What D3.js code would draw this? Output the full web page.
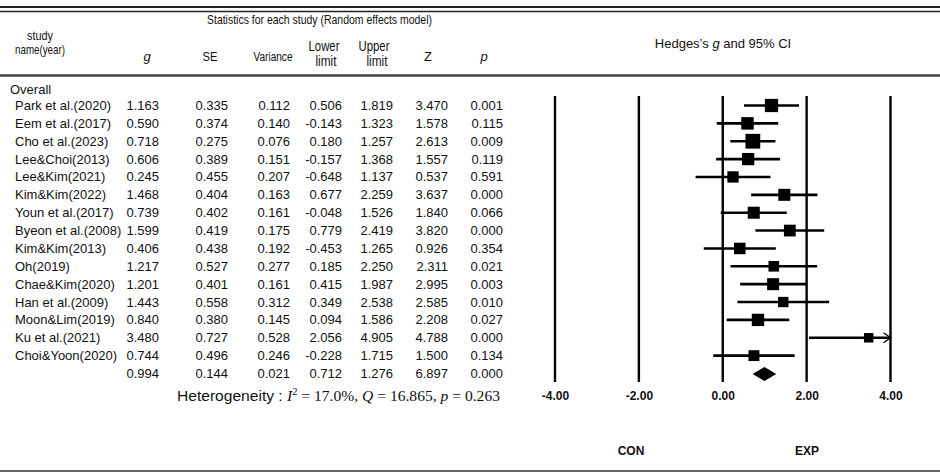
<!DOCTYPE html>
<html><head><meta charset="utf-8">
<script src="https://cdn.jsdelivr.net/npm/d3@7"></script>
<style>
html,body{margin:0;padding:0;background:#fff;}
svg{display:block;font-family:"Liberation Sans",Arial,sans-serif;}
</style></head>
<body>
<svg id="chart" width="940" height="473"></svg>
<script>
const studies = ["Park et al.(2020)","Eem et al.(2017)","Cho et al.(2023)","Lee&Choi(2013)","Lee&Kim(2021)","Kim&Kim(2022)","Youn et al.(2017)","Byeon et al.(2008)","Kim&Kim(2013)","Oh(2019)","Chae&Kim(2020)","Han et al.(2009)","Moon&Lim(2019)","Ku et al.(2021)","Choi&Yoon(2020)"];
const gVals   = [1.163,0.590,0.718,0.606,0.245,1.468,0.739,1.599,0.406,1.217,1.201,1.443,0.840,3.480,0.744];
const seVals  = [0.335,0.374,0.275,0.389,0.455,0.404,0.402,0.419,0.438,0.527,0.401,0.558,0.380,0.727,0.496];
const varVals = [0.112,0.140,0.076,0.151,0.207,0.163,0.161,0.175,0.192,0.277,0.161,0.312,0.145,0.528,0.246];
const lowVals = [0.506,-0.143,0.180,-0.157,-0.648,0.677,-0.048,0.779,-0.453,0.185,0.415,0.349,0.094,2.056,-0.228];
const upVals  = [1.819,1.323,1.257,1.368,1.137,2.259,1.526,2.419,1.265,2.250,1.987,2.538,1.586,4.905,1.715];
const zVals   = [3.470,1.578,2.613,1.557,0.537,3.637,1.840,3.820,0.926,2.311,2.995,2.585,2.208,4.788,1.500];
const pVals   = [0.001,0.115,0.009,0.119,0.591,0.000,0.066,0.000,0.354,0.021,0.003,0.010,0.027,0.000,0.134];
const overall = {g:0.994, se:0.144, v:0.021, lo:0.712, up:1.276, z:6.897, p:0.000};
const heterogeneity = {I2:"17.0%", Q:"16.865", p:"0.263"};
const tickVals = [-4,-2,0,2,4];
const sideLabels = ["CON","EXP"];

const svg = d3.select("#chart");
const loc = d3.formatLocale({decimal:".", thousands:",", grouping:[3], currency:["",""], minus:"-"});
const fmt = loc.format(".3f");
const fmtTick = loc.format(".2f");

// horizontal rules
svg.append("line").attr("x1",0).attr("x2",940).attr("y1",7).attr("y2",7).attr("stroke","#222").attr("stroke-width",2);
svg.append("line").attr("x1",0).attr("x2",940).attr("y1",11.5).attr("y2",11.5).attr("stroke","#222").attr("stroke-width",1.3);
svg.append("line").attr("x1",0).attr("x2",940).attr("y1",75.5).attr("y2",75.5).attr("stroke","#444").attr("stroke-width",2.5);
svg.append("line").attr("x1",0).attr("x2",940).attr("y1",471).attr("y2",471).attr("stroke","#333").attr("stroke-width",1.5);

// headers (condensed)
function hdr(txt, x, y, w, opts={}) {
  const t = svg.append("text").attr("x",x).attr("y",y).attr("text-anchor","middle")
    .attr("font-size", opts.size||13).attr("fill","#111").text(txt);
  if (w) t.attr("textLength",w).attr("lengthAdjust","spacingAndGlyphs");
  if (opts.italic) t.attr("font-style","italic");
  return t;
}
hdr("Statistics for each study (Random effects model)", 319.5, 24, 225);
hdr("study", 40, 40, 26);
hdr("name(year)", 40, 54, 50);
hdr("g", 147, 61, null, {italic:true, size:13});
hdr("SE", 210, 61, 15);
hdr("Variance", 273, 61, 39);
hdr("Lower", 324, 51, 31, {size:14});
hdr("limit", 326, 66, 21, {size:14});
hdr("Upper", 374, 51, 31, {size:14});
hdr("limit", 377, 66, 21, {size:14});
hdr("Z", 428, 61, null, {size:13});
hdr("p", 484, 61, null, {italic:true, size:13});
svg.append("text").attr("x",723).attr("y",48).attr("text-anchor","middle").attr("font-size",13).attr("fill","#111")
  .call(t=>{t.append("tspan").text("Hedges’s "); t.append("tspan").attr("font-style","italic").text("g"); t.append("tspan").text(" and 95% CI");});

svg.append("text").attr("x",10).attr("y",94).attr("font-size",13).attr("fill","#111").text("Overall");

// row scale
const y = d3.scaleLinear().domain([0,15]).range([105.5,373.5]);
const colRight = [159,228,290,342,393,448,503];

const rows = studies.map((s,i)=>({name:s, vals:[gVals[i],seVals[i],varVals[i],lowVals[i],upVals[i],zVals[i],pVals[i]], i}));
rows.push({name:"", vals:[overall.g,overall.se,overall.v,overall.lo,overall.up,overall.z,overall.p], i:15});

const rowG = svg.selectAll("g.row").data(rows).join("g").attr("class","row")
  .attr("transform",d=>`translate(0,${y(d.i)+4.5})`);
rowG.append("text").attr("x",15).attr("font-size",13).attr("fill","#111").text(d=>d.name);
rowG.selectAll("text.v").data(d=>d.vals).join("text").attr("class","v")
  .attr("x",(d,j)=>colRight[j]).attr("text-anchor","end").attr("font-size",13).attr("fill","#111")
  .text(d=>fmt(d));

// heterogeneity
const het = svg.append("text").attr("x",177).attr("y",401).attr("font-size",15).attr("fill","#111")
  .attr("textLength",323).attr("lengthAdjust","spacingAndGlyphs");
het.append("tspan").attr("font-family","Liberation Sans, Arial").text("Heterogeneity : ");
const serif = "Liberation Serif, DejaVu Serif, serif";
het.append("tspan").attr("font-family",serif).attr("font-style","italic").text("I");
het.append("tspan").attr("font-family",serif).attr("font-size",10).attr("dy",-6).text("2");
het.append("tspan").attr("font-family",serif).attr("dy",6).text(` = ${heterogeneity.I2},  `);
het.append("tspan").attr("font-family",serif).attr("font-style","italic").text("Q");
het.append("tspan").attr("font-family",serif).text(` = ${heterogeneity.Q},  `);
het.append("tspan").attr("font-family",serif).attr("font-style","italic").text("p");
het.append("tspan").attr("font-family",serif).text(` = ${heterogeneity.p}`);

// forest plot
const x = d3.scaleLinear().domain([-4,4]).range([555,890.5]);
svg.selectAll("line.grid").data(tickVals).join("line").attr("class","grid")
  .attr("x1",d=>x(d)).attr("x2",d=>x(d)).attr("y1",96).attr("y2",382)
  .attr("stroke","#000").attr("stroke-width",2.4);

const axis = d3.axisBottom(x).tickValues(tickVals).tickFormat(fmtTick).tickSize(0);
const ax = svg.append("g").attr("transform","translate(0,388)").call(axis);
ax.select(".domain").remove();
ax.selectAll("text").attr("font-size",12).attr("font-weight","bold").attr("fill","#111")
  .attr("font-family","Liberation Sans, Arial");

const xmax = 4;
const forest = svg.append("g");
studies.forEach((s,i)=>{
  const yy = y(i);
  const lo = Math.max(lowVals[i],-4), hi = Math.min(upVals[i],xmax);
  forest.append("line").attr("x1",x(lo)).attr("x2",x(hi)).attr("y1",yy).attr("y2",yy)
    .attr("stroke","#000").attr("stroke-width",2.6);
  if (upVals[i] > xmax) {
    forest.append("path").attr("d",`M${x(xmax)-7},${yy-5}L${x(xmax)},${yy}L${x(xmax)-7},${yy+5}`)
      .attr("fill","none").attr("stroke","#000").attr("stroke-width",1.3);
  }
  const w = 1/(varVals[i]+0.05);
  const side = 8 + 0.85*w;
  forest.append("rect").attr("x",x(gVals[i])-side/2).attr("y",yy-side/2)
    .attr("width",side).attr("height",side).attr("fill","#000");
});
const yo = y(15)+0.5;
forest.append("path")
  .attr("d",`M${x(overall.lo)},${yo}L${x(overall.g)},${yo-7}L${x(overall.up)},${yo}L${x(overall.g)},${yo+7}Z`)
  .attr("fill","#000");

svg.selectAll("text.side").data(sideLabels).join("text").attr("class","side")
  .attr("x",(d,i)=>i===0?631:807).attr("y",455).attr("text-anchor","middle")
  .attr("font-size",12).attr("font-weight","bold").attr("fill","#111").text(d=>d);
</script>
</body></html>
